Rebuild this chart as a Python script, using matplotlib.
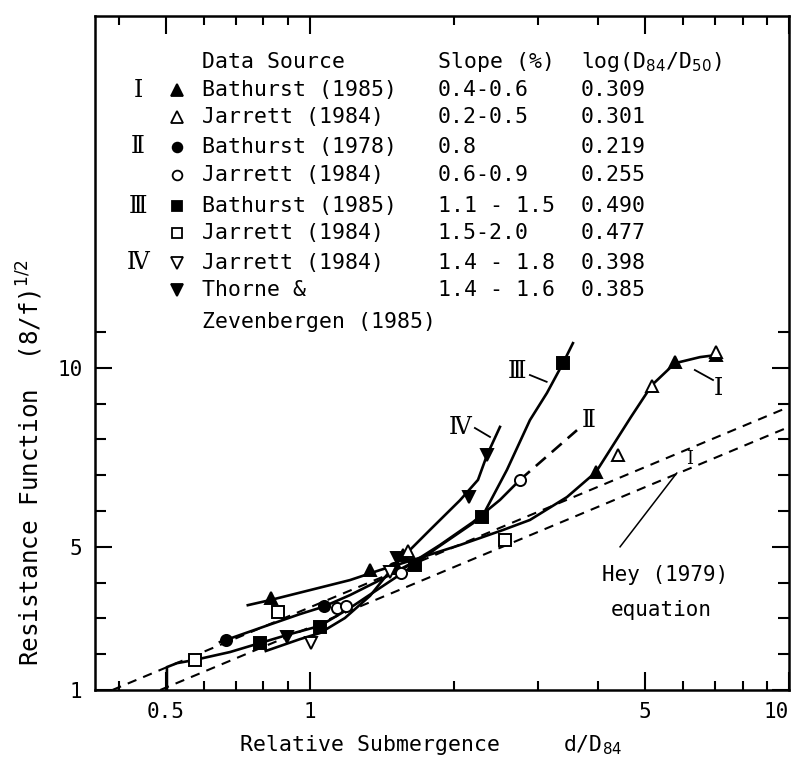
import matplotlib.pyplot as plt
from matplotlib.ticker import FixedLocator, FixedFormatter, NullFormatter

plt.rcParams['font.family'] = ['DejaVu Sans Mono', 'DejaVu Sans']
plt.rcParams['mathtext.fontset'] = 'dejavusans'
ROMAN = ['DejaVu Serif', 'DejaVu Sans']

# ---------------- curves (x = d/D84, y = (8/f)^1/2) ----------------
x_I = [0.742, 0.825, 1.0, 1.212, 1.400, 1.722, 2.057, 2.529, 2.879, 3.440, 3.955,
       4.164, 4.68, 5.176, 5.781, 6.52, 7.07]
y_I = [3.37, 3.51, 3.79, 4.07, 4.35, 4.72, 5.05, 5.47, 5.75, 6.39, 7.09,
       7.56, 8.63, 9.52, 10.13, 10.30, 10.36]

x_II = [0.649, 0.786, 0.953, 1.064, 1.212, 1.400, 1.618, 1.868, 2.189, 2.493, 2.744]
y_II = [2.34, 2.73, 3.12, 3.32, 3.65, 4.07, 4.52, 5.05, 5.69, 6.31, 6.87]
x_II_dash = [2.744, 3.61]
y_II_dash = [6.87, 8.26]

x_III = [0.503, 0.503, 0.528, 0.575, 0.681, 0.786, 0.908, 1.049, 1.212, 1.400, 1.618, 1.841,
         2.286, 2.578, 2.879, 3.125, 3.375, 3.540]
y_III = [1.0, 1.64, 1.75, 1.84, 2.06, 2.31, 2.56, 2.79, 3.29, 3.85, 4.41, 4.97,
         5.83, 7.15, 8.54, 9.30, 10.13, 10.69]

x_IV = [0.809, 0.953, 1.049, 1.183, 1.335, 1.504, 1.780, 2.057, 2.243, 2.342, 2.493]
y_IV = [2.09, 2.42, 2.59, 3.01, 3.63, 4.49, 5.47, 6.30, 6.87, 7.56, 8.35]

# Hey (1979) equation, upper and lower limits
x_hey_up = [0.387, 10]
y_hey_up = [1.0, 8.91]
x_hey_lo = [0.487, 10]
y_hey_lo = [1.0, 8.35]

# ---------------- data points ----------------
bath85_tri_x = [0.828, 1.335, 1.564, 3.955, 5.78, 7.05]
bath85_tri_y = [3.57, 4.35, 4.77, 7.09, 10.16, 10.36]
jar_tri_x = [1.60, 4.40, 5.18, 7.05]
jar_tri_y = [4.88, 7.56, 9.49, 10.44]
bath78_circ_x = [0.668, 1.07, 1.50]
bath78_circ_y = [2.40, 3.35, 4.40]
jar_circ_x = [1.137, 1.19, 1.55, 2.744]
jar_circ_y = [3.29, 3.35, 4.27, 6.87]
bath85_sq_x = [0.786, 1.049, 1.66, 2.286, 3.375]
bath85_sq_y = [2.31, 2.75, 4.50, 5.83, 10.13]
jar_sq_x = [0.575, 0.858, 2.553]
jar_sq_y = [1.84, 3.18, 5.19]
jar_tdown_x = [1.005, 1.47]
jar_tdown_y = [2.31, 4.30]
thorne_tdown_x = [0.894, 1.52, 2.15, 2.342]
thorne_tdown_y = [2.49, 4.70, 6.40, 7.56]

# ---------------- table in the upper part ----------------
groups = ['\u2160', '', '\u2161', '', '\u2162', '', '\u2163', '']
sources = ['Bathurst (1985)', 'Jarrett (1984)', 'Bathurst (1978)', 'Jarrett (1984)',
           'Bathurst (1985)', 'Jarrett (1984)', 'Jarrett (1984)', 'Thorne &']
slopes = ['0.4-0.6', '0.2-0.5', '0.8', '0.6-0.9', '1.1 - 1.5', '1.5-2.0', '1.4 - 1.8', '1.4 - 1.6']
logs = ['0.309', '0.301', '0.219', '0.255', '0.490', '0.477', '0.398', '0.385']
symbols = [('^', 'k'), ('^', 'w'), ('o', 'k'), ('o', 'w'),
           ('s', 'k'), ('s', 'w'), ('v', 'w'), ('v', 'k')]

fig = plt.figure(figsize=(7.95, 7.63), dpi=100)
ax = fig.add_axes([95 / 795, 73 / 763, 694 / 795, 674 / 763])
ax.set_xscale('log')
ax.set_xlim(0.356, 10)
ax.set_ylim(1, 19.83)

lw = 1.9
ax.plot(x_hey_up, y_hey_up, color='k', lw=1.5, dashes=(4.5, 3.5))
ax.plot(x_hey_lo, y_hey_lo, color='k', lw=1.5, dashes=(4.5, 3.5))
ax.plot(x_I, y_I, color='k', lw=lw)
ax.plot(x_II, y_II, color='k', lw=lw)
ax.plot(x_II_dash, y_II_dash, color='k', lw=lw, dashes=(5, 3))
ax.plot(x_III, y_III, color='k', lw=lw)
ax.plot(x_IV, y_IV, color='k', lw=lw)

mk = dict(ls='none', mec='k', mew=1.4, zorder=3)
ax.plot(bath85_tri_x, bath85_tri_y, marker='^', ms=9, mfc='k', **mk)
ax.plot(jar_tri_x, jar_tri_y, marker='^', ms=9, mfc='w', **mk)
ax.plot(bath78_circ_x, bath78_circ_y, marker='o', ms=8, mfc='k', **mk)
ax.plot(jar_circ_x, jar_circ_y, marker='o', ms=8, mfc='w', **mk)
ax.plot(bath85_sq_x, bath85_sq_y, marker='s', ms=8, mfc='k', **mk)
ax.plot(jar_sq_x, jar_sq_y, marker='s', ms=8, mfc='w', **mk)
ax.plot(jar_tdown_x, jar_tdown_y, marker='v', ms=9, mfc='w', **mk)
ax.plot(thorne_tdown_x, thorne_tdown_y, marker='v', ms=9, mfc='k', **mk)

# curve labels and leaders
ax.text(2.70, 9.89, '\u2162', family=ROMAN, fontsize=17, ha='center', va='center')
ax.plot([2.879, 3.12], [9.80, 9.61], color='k', lw=1.3)
ax.text(2.057, 8.32, '\u2163', family=ROMAN, fontsize=17, ha='center', va='center')
ax.plot([2.21, 2.376], [8.32, 8.07], color='k', lw=1.3)
ax.text(3.81, 8.54, '\u2161', family=ROMAN, fontsize=17, ha='center', va='center')
ax.text(7.12, 9.43, '\u2160', family=ROMAN, fontsize=17, ha='center', va='center')
ax.plot([6.36, 6.94], [9.94, 9.66], color='k', lw=1.3)

ax.text(6.2, 7.45, 'I', family=ROMAN, fontsize=13, ha='center', va='center')
ax.plot([4.44, 5.83], [5.0, 7.06], color='k', lw=1.1)
ax.text(5.51, 4.21, 'Hey (1979)', fontsize=15, ha='center', va='center')
ax.text(5.40, 3.23, 'equation', fontsize=15, ha='center', va='center')

# table
fs = 15.5
hdr_y = 0.932
row_y = [0.890, 0.850, 0.806, 0.764, 0.718, 0.678, 0.634, 0.594]
ax.text(0.154, hdr_y, 'Data Source', transform=ax.transAxes, fontsize=fs, va='center')
ax.text(0.494, hdr_y, 'Slope (%)', transform=ax.transAxes, fontsize=fs, va='center')
ax.text(0.70, hdr_y, 'log(D$_{84}$/D$_{50}$)', transform=ax.transAxes, fontsize=fs, va='center')
for g, s, sl, lg, (m, fc), ry in zip(groups, sources, slopes, logs, symbols, row_y):
    if g:
        ax.text(0.062, ry, g, transform=ax.transAxes, family=ROMAN, fontsize=17,
                ha='center', va='center')
    ax.plot([0.118], [ry], marker=m, ms=7 if m in 'os' else 8, mfc=fc, mec='k', mew=1.3,
            transform=ax.transAxes, ls='none')
    ax.text(0.154, ry, s, transform=ax.transAxes, fontsize=fs, va='center')
    ax.text(0.494, ry, sl, transform=ax.transAxes, fontsize=fs, va='center')
    ax.text(0.70, ry, lg, transform=ax.transAxes, fontsize=fs, va='center')
ax.text(0.154, 0.546, 'Zevenbergen (1985)', transform=ax.transAxes, fontsize=fs, va='center')

# axes and ticks
ax.xaxis.set_major_locator(FixedLocator([0.5, 1, 5, 10]))
ax.xaxis.set_major_formatter(FixedFormatter(['0.5', '1', '5', '10']))
ax.xaxis.set_minor_locator(FixedLocator([0.4, 0.6, 0.7, 0.8, 0.9, 2, 3, 4, 6, 7, 8, 9]))
ax.xaxis.set_minor_formatter(NullFormatter())
ax.yaxis.set_major_locator(FixedLocator([1, 5, 10]))
ax.yaxis.set_minor_locator(FixedLocator([2, 3, 4, 6, 7, 8, 9, 11]))
ax.yaxis.set_minor_formatter(NullFormatter())
ax.tick_params(which='both', direction='in', top=True, right=True, width=1.5, labelsize=15)
ax.tick_params(axis='x', which='major', length=13, pad=9)
ax.tick_params(axis='x', which='minor', length=6.5)
ax.tick_params(axis='y', which='major', length=12, pad=9)
ax.tick_params(axis='y', which='minor', length=8)
for sp in ax.spines.values():
    sp.set_linewidth(1.8)

fig.canvas.draw()
ax.get_xticklabels()[-1].set_horizontalalignment('right')

fig.text(30 / 795, 1 - 463 / 763, 'Resistance Function  (8/f)$^{1/2}$', rotation=90,
         fontsize=17.5, ha='center', va='center')
fig.text(240 / 795, 1 - 745 / 763, 'Relative Submergence', fontsize=15.5, va='center')
fig.text(563 / 795, 1 - 745 / 763, 'd/D$_{84}$', fontsize=15.5, va='center')

fig.savefig('out.png', dpi=100)
